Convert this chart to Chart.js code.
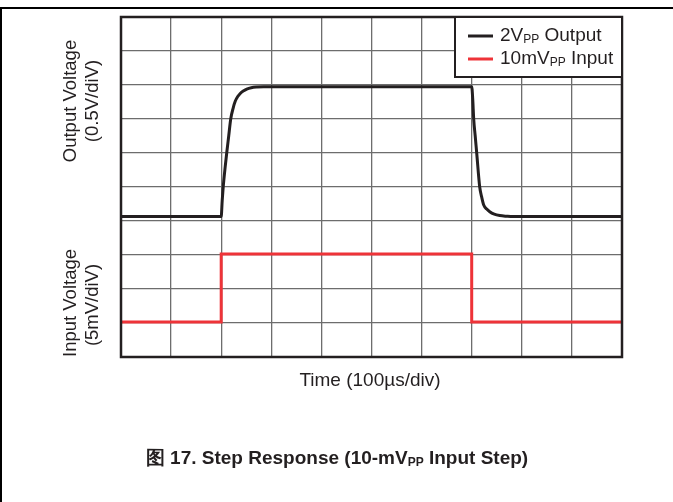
<!DOCTYPE html>
<html>
<head>
<meta charset="utf-8">
<script src="https://cdn.jsdelivr.net/npm/chart.js@4.4.1/dist/chart.umd.min.js"></script>
<style>
  html, body { margin: 0; padding: 0; background: #fff; }
  #wrap { position: relative; width: 673px; height: 502px; }
  canvas { display: block; }
</style>
</head>
<body>
<div id="wrap"><canvas id="c" width="673" height="502"></canvas></div>
<script>
// Time in divisions (100 µs/div), voltages in screen divisions
const outTime = [0, 2.0, 2.02, 2.04, 2.08, 2.11, 2.15, 2.19, 2.24, 2.28, 2.33, 2.38, 2.45, 2.51, 2.6, 2.71, 2.85, 7.0, 7.02, 7.04, 7.07, 7.1, 7.16, 7.2, 7.24, 7.3, 7.36, 7.45, 7.56, 7.7, 7.82, 10];
const outDiv  = [4.13, 4.13, 4.6, 5.0, 5.6, 6.0, 6.5, 7.0, 7.33, 7.52, 7.66, 7.75, 7.83, 7.88, 7.92, 7.94, 7.95, 7.95, 7.6, 7.0, 6.5, 6.0, 5.0, 4.7, 4.47, 4.35, 4.27, 4.2, 4.16, 4.14, 4.13, 4.13];
const inTime  = [0, 2.0, 2.0, 7.0, 7.0, 10];
const inDiv   = [1.03, 1.03, 3.03, 3.03, 1.03, 1.03];
const legendLabels = [["2V", "PP", " Output"], ["10mV", "PP", " Input"]];
const legendColors = ["#231f20", "#ee3338"];
const yTitlesOut = ["Output Voltage", "(0.5V/diV)"];
const yTitlesIn = ["Input Voltage", "(5mV/diV)"];
const xTitle = "Time (100µs/div)";
const caption = ["图 17. Step Response (10-mV", "PP", " Input Step)"];

const FONT = '"Liberation Sans", Arial, Helvetica, sans-serif';

const decor = {
  id: 'decor',
  beforeDraw(chart) {
    const ctx = chart.ctx;
    ctx.save();
    ctx.fillStyle = '#fff';
    ctx.fillRect(0, 0, chart.width, chart.height);
    ctx.restore();
  },
  afterDraw(chart) {
    const ctx = chart.ctx;
    const a = chart.chartArea;
    ctx.save();
    // page frame
    ctx.strokeStyle = '#000';
    ctx.lineWidth = 2;
    ctx.beginPath();
    ctx.moveTo(0, 8); ctx.lineTo(673, 8);
    ctx.moveTo(1, 8); ctx.lineTo(1, 502);
    ctx.stroke();
    // plot border
    ctx.strokeStyle = '#231f20';
    ctx.lineWidth = 2.5;
    ctx.strokeRect(a.left, a.top, a.right - a.left, a.bottom - a.top);

    // legend
    const lx = 455, ly = a.top, lw = a.right - lx, lh = 60;
    ctx.fillStyle = '#fff';
    ctx.fillRect(lx, ly, lw, lh);
    ctx.strokeStyle = '#231f20';
    ctx.lineWidth = 2;
    ctx.strokeRect(lx, ly, lw, lh);
    const rows = [36, 59];
    legendLabels.forEach((parts, i) => {
      const y = rows[i];
      ctx.strokeStyle = legendColors[i];
      ctx.lineWidth = 3;
      ctx.beginPath(); ctx.moveTo(468, y); ctx.lineTo(493, y); ctx.stroke();
      ctx.fillStyle = '#231f20';
      ctx.textBaseline = 'middle';
      ctx.textAlign = 'left';
      let x = 500;
      ctx.font = '19px ' + FONT;
      ctx.fillText(parts[0], x, y); x += ctx.measureText(parts[0]).width;
      ctx.font = '12px ' + FONT;
      ctx.fillText(parts[1], x, y + 4); x += ctx.measureText(parts[1]).width;
      ctx.font = '19px ' + FONT;
      ctx.fillText(parts[2], x, y);
    });

    // y titles
    ctx.fillStyle = '#231f20';
    ctx.font = '18.5px ' + FONT;
    ctx.textAlign = 'center';
    ctx.textBaseline = 'middle';
    const rot = (txt, cx, cy) => {
      ctx.save(); ctx.translate(cx, cy); ctx.rotate(-Math.PI / 2);
      ctx.fillText(txt, 0, 0); ctx.restore();
    };
    rot(yTitlesOut[0], 71, 101);
    rot(yTitlesOut[1], 93, 101);
    rot(yTitlesIn[0], 71, 303);
    rot(yTitlesIn[1], 93, 305);

    // x title
    ctx.font = '19px ' + FONT;
    ctx.fillText(xTitle, 370, 381);

    // caption
    ctx.font = 'bold 19px ' + FONT;
    ctx.textAlign = 'left';
    const w0 = ctx.measureText(caption[0]).width;
    const w2 = ctx.measureText(caption[2]).width;
    ctx.font = 'bold 12px ' + FONT;
    const w1 = ctx.measureText(caption[1]).width;
    let cx = 337 - (w0 + w1 + w2) / 2;
    const cy = 459;
    ctx.font = 'bold 19px ' + FONT;
    ctx.fillText(caption[0], cx, cy); cx += w0;
    ctx.font = 'bold 12px ' + FONT;
    ctx.fillText(caption[1], cx, cy + 4); cx += w1;
    ctx.font = 'bold 19px ' + FONT;
    ctx.fillText(caption[2], cx, cy);
    ctx.restore();
  }
};

const toPts = (xs, ys) => xs.map((x, i) => ({ x, y: ys[i] }));

new Chart(document.getElementById('c'), {
  type: 'line',
  data: {
    datasets: [
      {
        label: '2VPP Output',
        data: toPts(outTime, outDiv),
        borderColor: '#231f20',
        borderWidth: 3,
        pointRadius: 0,
        cubicInterpolationMode: 'monotone',
        fill: false
      },
      {
        label: '10mVPP Input',
        data: toPts(inTime, inDiv),
        borderColor: '#ee3338',
        borderWidth: 3,
        pointRadius: 0,
        tension: 0,
        fill: false
      }
    ]
  },
  options: {
    responsive: false,
    animation: false,
    devicePixelRatio: 1,
    layout: { padding: { left: 121, top: 17, right: 51, bottom: 145 } },
    plugins: { legend: { display: false }, tooltip: { enabled: false }, title: { display: false } },
    scales: {
      x: {
        type: 'linear', min: 0, max: 10,
        ticks: { display: false, stepSize: 1 },
        grid: { color: '#6d6d6d', lineWidth: 1.3, drawTicks: false },
        border: { display: false }
      },
      y: {
        type: 'linear', min: 0, max: 10,
        ticks: { display: false, stepSize: 1 },
        grid: { color: '#6d6d6d', lineWidth: 1.3, drawTicks: false },
        border: { display: false }
      }
    }
  },
  plugins: [decor]
});
</script>
</body>
</html>
